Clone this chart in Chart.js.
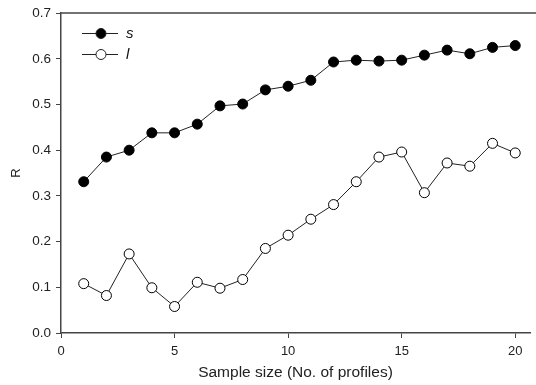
<!DOCTYPE html>
<html>
<head>
<meta charset="utf-8">
<script src="https://cdn.jsdelivr.net/npm/chart.js@4"></script>
<style>
  html, body { margin: 0; padding: 0; background: #fff; }
  #wrap { width: 536px; height: 385px; }
</style>
</head>
<body>
<div id="wrap"><canvas id="rChart" width="536" height="385"></canvas></div>
<script>
// sample size (number of profiles)
var sampleSizes = [1, 2, 3, 4, 5, 6, 7, 8, 9, 10, 11, 12, 13, 14, 15, 16, 17, 18, 19, 20];
// R values
var sValues = [0.331, 0.385, 0.400, 0.438, 0.438, 0.457, 0.497, 0.501, 0.532, 0.540,
               0.553, 0.593, 0.597, 0.595, 0.597, 0.608, 0.619, 0.611, 0.625, 0.629];
var lValues = [0.108, 0.082, 0.173, 0.099, 0.058, 0.111, 0.098, 0.117, 0.185, 0.214,
               0.249, 0.281, 0.331, 0.385, 0.396, 0.307, 0.372, 0.365, 0.415, 0.394];
var seriesNames = ['s', 'l'];
var xTicks = [0, 5, 10, 15, 20];
var yTicks = [0, 0.1, 0.2, 0.3, 0.4, 0.5, 0.6, 0.7];

var fontFamily = '"Liberation Sans", Arial, sans-serif';
var axisColor = '#444';

function toPoints(vals) {
    return sampleSizes.map(function(x, i) { return { x: x, y: vals[i] }; });
}

// top frame line + legend (line with marker, italic label)
var extras = {
    id: 'extras',
    afterDraw: function(chart) {
        var ctx = chart.ctx;
        var area = chart.chartArea;
        ctx.save();
        ctx.strokeStyle = axisColor;
        ctx.lineWidth = 1.5;
        ctx.beginPath();
        ctx.moveTo(area.left, area.top);
        ctx.lineTo(chart.width, area.top);
        ctx.stroke();

        var rows = [33.5, 54.5];
        chart.data.datasets.forEach(function(ds, i) {
            var y = rows[i];
            ctx.strokeStyle = '#222';
            ctx.lineWidth = 1;
            ctx.beginPath();
            ctx.moveTo(82, y);
            ctx.lineTo(118, y);
            ctx.stroke();
            ctx.beginPath();
            ctx.arc(101, y, 5, 0, Math.PI * 2);
            ctx.fillStyle = ds.pointBackgroundColor;
            ctx.fill();
            ctx.stroke();
            ctx.fillStyle = '#111';
            ctx.font = 'italic 15px ' + fontFamily;
            ctx.textBaseline = 'middle';
            ctx.textAlign = 'left';
            ctx.fillText(seriesNames[i], 126, y);
        });
        ctx.restore();
    }
};

var ctx = document.getElementById('rChart').getContext('2d');
var chart = new Chart(ctx, {
    type: 'scatter',
    data: {
        datasets: [{
            label: seriesNames[0],
            data: toPoints(sValues),
            showLine: true,
            borderColor: '#222',
            borderWidth: 1,
            pointRadius: 5,
            pointBackgroundColor: '#000',
            pointBorderColor: '#000',
            pointBorderWidth: 1
        }, {
            label: seriesNames[1],
            data: toPoints(lValues),
            showLine: true,
            borderColor: '#222',
            borderWidth: 1,
            pointRadius: 5,
            pointBackgroundColor: '#fff',
            pointBorderColor: '#000',
            pointBorderWidth: 1
        }]
    },
    options: {
        responsive: false,
        animation: false,
        layout: { padding: { top: 12, right: 0, left: 0, bottom: 0 } },
        plugins: {
            legend: { display: false },
            tooltip: { enabled: false }
        },
        scales: {
            x: {
                type: 'linear',
                min: 0,
                max: 20.65,
                afterBuildTicks: function(scale) {
                    scale.ticks = xTicks.map(function(v) { return { value: v }; });
                },
                afterFit: function(scale) { scale.height = 52; },
                grid: {
                    drawOnChartArea: false,
                    drawTicks: true,
                    tickLength: 5,
                    color: axisColor,
                    lineWidth: 1
                },
                border: { color: axisColor, width: 1.5 },
                ticks: {
                    color: '#222',
                    padding: 6,
                    maxRotation: 0,
                    font: { family: fontFamily, size: 13 }
                },
                title: {
                    display: true,
                    text: 'Sample size (No. of profiles)',
                    color: '#222',
                    padding: { top: 0, bottom: 3 },
                    font: { family: fontFamily, size: 15.5 }
                }
            },
            y: {
                min: 0,
                max: 0.7,
                afterBuildTicks: function(scale) {
                    scale.ticks = yTicks.map(function(v) { return { value: v }; });
                },
                afterFit: function(scale) { scale.width = 61; },
                grid: {
                    drawOnChartArea: false,
                    drawTicks: true,
                    tickLength: 5,
                    color: axisColor,
                    lineWidth: 1
                },
                border: { color: axisColor, width: 1.5 },
                ticks: {
                    color: '#222',
                    padding: 5,
                    font: { family: fontFamily, size: 13.5 },
                    callback: function(v) { return v.toFixed(1); }
                },
                title: {
                    display: true,
                    text: 'R',
                    color: '#222',
                    padding: { top: 9, bottom: 0 },
                    font: { family: fontFamily, size: 13 }
                }
            }
        }
    },
    plugins: [extras]
});
</script>
</body>
</html>
